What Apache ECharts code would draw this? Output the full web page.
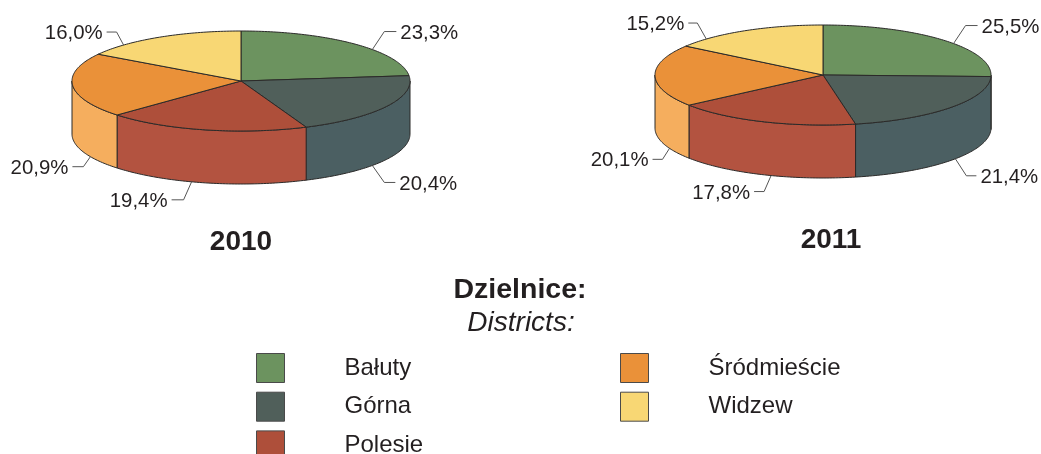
<!DOCTYPE html>
<html><head><meta charset="utf-8">
<style>html,body{margin:0;padding:0;background:#fff}#c{width:1041px;height:454px}</style>
<script src="https://cdn.jsdelivr.net/npm/echarts@6/dist/echarts.min.js"></script>
</head><body><div id="c"></div>
<script>
// ---- data ----
const districts = ['Bałuty', 'Górna', 'Polesie', 'Śródmieście', 'Widzew'];
const years = ['2010', '2011'];
const values2010 = [23.3, 20.4, 19.4, 20.9, 16.0];
const values2011 = [25.5, 21.4, 17.8, 20.1, 15.2];
const allValues = [values2010, values2011];
const legendColumnA = ['Bałuty', 'Górna', 'Polesie'];
const legendColumnB = ['Śródmieście', 'Widzew'];

// ---- styles and layout ----
const FONT = '"Liberation Sans", Arial, sans-serif';
const INK = '#231f20';
const topColors = ['#6c935f', '#505f5a', '#ae4f3a', '#ea9139', '#f8d774'];
const sideColors = ['#7ba36e', '#4b5f62', '#b35340', '#f5ae5e', '#f9de8a'];
const pies = [
  {cx: 241, cy: 81, rx: 169, ry: 50, depth: 53},
  {cx: 823, cy: 75, rx: 168, ry: 50, depth: 53}
];
// rim angle where each leader starts (clockwise from top), elbow offset, end offset, side
const leaders = [
  [
    {a: 51,  dx: 12,  dy: -18, ex: 12,  side: 1, rim: 'top'},
    {a: 129, dx: 12,  dy: 17,  ex: 11,  side: 1, rim: 'bottom'},
    {a: 197, dx: -8,  dy: 18,  ex: -12, side: -1, rim: 'bottom'},
    {a: 243, dx: -7,  dy: 10,  ex: -11, side: -1, rim: 'bottom'},
    {a: 316, dx: -7,  dy: -13, ex: -10, side: -1, rim: 'top'}
  ],
  [
    {a: 51,  dx: 12,  dy: -18, ex: 12,  side: 1, rim: 'top'},
    {a: 128, dx: 11,  dy: 17,  ex: 10,  side: 1, rim: 'bottom'},
    {a: 198, dx: -7,  dy: 16,  ex: -10, side: -1, rim: 'bottom'},
    {a: 246, dx: -7,  dy: 11,  ex: -10, side: -1, rim: 'bottom'},
    {a: 316, dx: -9,  dy: -16, ex: -9,  side: -1, rim: 'top'}
  ]
];

function rimPoint(p, deg, drop) {
  const t = deg * Math.PI / 180;
  return [p.cx + p.rx * Math.sin(t), p.cy - p.ry * Math.cos(t) + (drop || 0)];
}
function arc(p, from, to, drop) {
  const pts = [];
  const n = Math.max(2, Math.ceil(Math.abs(to - from)));
  for (let i = 0; i <= n; i++) pts.push(rimPoint(p, from + (to - from) * i / n, drop));
  return pts;
}

function makeRender(di) {
  return function (params, api) {
    const yi = api.value(0);
    const vals = allValues[yi];
    const total = vals.reduce((s, v) => s + v, 0);
    let before = 0;
    for (let i = 0; i < di; i++) before += vals[i];
    const a0 = before / total * 360;
    const a1 = (before + vals[di]) / total * 360;
    const p = pies[yi];
    const children = [];
    const edge = {stroke: '#2b2a29', lineWidth: 1, lineJoin: 'round'};

    // outer wall: only the part on the viewer's side of the ellipse
    const s0 = Math.max(a0, 90), s1 = Math.min(a1, 270);
    if (s1 > s0) {
      const wall = arc(p, s0, s1, 0).concat(arc(p, s1, s0, p.depth));
      children.push({type: 'polygon', z2: 1, shape: {points: wall},
        style: Object.assign({fill: sideColors[di]}, edge)});
    }
    // top face
    const face = [[p.cx, p.cy]].concat(arc(p, a0, a1, 0));
    children.push({type: 'polygon', z2: 2, shape: {points: face},
      style: Object.assign({fill: api.visual('color')}, edge)});

    // leader line and value label
    const L = leaders[yi][di];
    const st = rimPoint(p, L.a, L.rim === 'bottom' ? p.depth : 0);
    const el = [st[0] + L.dx, st[1] + L.dy];
    const en = [el[0] + L.ex, el[1]];
    children.push({type: 'polyline', z2: 3, shape: {points: [st, el, en]},
      style: {stroke: '#555', lineWidth: 1, fill: null}});
    children.push({type: 'text', z2: 4, x: en[0] + L.side * 4, y: en[1] + 1.5,
      style: {
        text: vals[di].toFixed(1).replace('.', ',') + '%',
        font: '20.4px ' + FONT, fill: INK,
        align: L.side > 0 ? 'left' : 'right', verticalAlign: 'middle'
      }});
    return {type: 'group', children};
  };
}

const series = districts.map((name, di) => ({
  type: 'custom', name, coordinateSystem: 'none',
  renderItem: makeRender(di), silent: true, animation: false,
  itemStyle: {color: topColors[di]},
  data: years.map((y, yi) => [yi, allValues[yi][di]])
}));

const legendBase = {
  orient: 'vertical', icon: 'rect', itemWidth: 28, itemHeight: 29, itemGap: 8.7,
  height: 140, padding: 0, selectedMode: false,
  itemStyle: {borderColor: '#4a4a4a', borderWidth: 1},
  textStyle: {fontFamily: FONT, fontSize: 24, color: INK, padding: [4, 0, 0, 55]}
};
const heading = (text, left, top, size, weight, fontStyle) => ({
  text, left, top, textAlign: 'center', padding: 0,
  textStyle: {fontFamily: FONT, fontSize: size, fontWeight: weight, fontStyle: fontStyle || 'normal', color: INK}
});

echarts.init(document.getElementById('c'), null, {renderer: 'canvas'}).setOption({
  backgroundColor: '#fff',
  animation: false,
  title: [
    heading(years[0], 241, 228, 28, 'bold'),
    heading(years[1], 831, 226, 28, 'bold'),
    heading('Dzielnice:', 520, 276, 28.5, 'bold'),
    heading('Districts:', 521, 309, 28, 'normal', 'italic')
  ],
  legend: [
    Object.assign({}, legendBase, {left: 256, top: 353, data: legendColumnA}),
    Object.assign({}, legendBase, {left: 620, top: 353, data: legendColumnB})
  ],
  series
});
</script></body></html>
